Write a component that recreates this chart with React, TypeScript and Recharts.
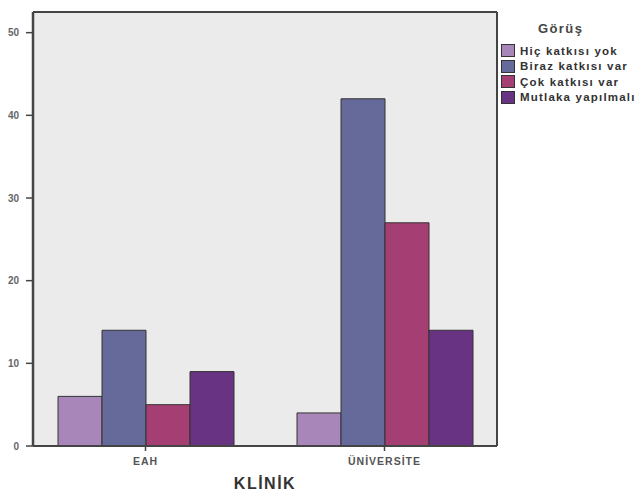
import React from 'react';
import { BarChart, Bar, XAxis, YAxis, CartesianGrid, Label } from 'recharts';

const clinics = ['EAH', 'ÜNİVERSİTE'];
const hicKatkisiYok = [6, 4];
const birazKatkisiVar = [14, 42];
const cokKatkisiVar = [5, 27];
const mutlakaYapilmali = [9, 14];
const yTicks = [0, 10, 20, 30, 40, 50];

const series = [
  { key: 'hic', name: 'Hiç katkısı yok', color: '#a886b9', values: hicKatkisiYok },
  { key: 'biraz', name: 'Biraz katkısı var', color: '#656a9b', values: birazKatkisiVar },
  { key: 'cok', name: 'Çok katkısı var', color: '#a53f73', values: cokKatkisiVar },
  { key: 'mutlaka', name: 'Mutlaka yapılmalı', color: '#683382', values: mutlakaYapilmali },
];

const data = clinics.map((name, i) => {
  const row: Record<string, string | number> = { name };
  series.forEach(s => {
    row[s.key] = s.values[i];
  });
  return row;
});

const font = '"Liberation Sans", Arial, sans-serif';
const frame = '#444';

// frame lines on all four sides of the plot area
const frameRows = ({ offset }: any) => [offset.top, offset.top + offset.height];
const frameCols = ({ offset }: any) => [offset.left, offset.left + offset.width];

export default function App() {
  return (
    <div style={{ position: 'absolute', left: 0, top: 0, width: 640, height: 493, fontFamily: font }}>
      <BarChart
        width={640}
        height={493}
        data={data}
        margin={{ top: 12, right: 143, left: 0, bottom: 0 }}
        barGap={0}
        barSize={44}
      >
        <CartesianGrid
          fill="#ebebeb"
          stroke={frame}
          strokeWidth={2}
          horizontalCoordinatesGenerator={frameRows}
          verticalCoordinatesGenerator={frameCols}
        />
        <XAxis
          dataKey="name"
          height={47}
          padding={{ left: -7, right: -7 }}
          axisLine={{ stroke: frame, strokeWidth: 2 }}
          tickLine={{ stroke: frame, strokeWidth: 1.5 }}
          tickSize={5}
          tickMargin={7}
          tick={{ fontSize: 10.5, fontWeight: 700, fill: '#555', letterSpacing: 1, fontFamily: font }}
        >
          <Label
            value="KLİNİK"
            position="insideBottom"
            offset={4}
            style={{ fontSize: 16, fontWeight: 700, fill: '#333', letterSpacing: 1.5, fontFamily: font }}
          />
        </XAxis>
        <YAxis
          width={33}
          domain={[0, 52.5]}
          ticks={yTicks}
          allowDataOverflow
          axisLine={{ stroke: frame, strokeWidth: 2.5 }}
          tickLine={{ stroke: frame, strokeWidth: 1.5 }}
          tickSize={7}
          tickMargin={7}
          tick={{ fontSize: 10, fontWeight: 700, fill: '#666', fontFamily: font }}
        />
        {series.map(s => (
          <Bar
            key={s.key}
            dataKey={s.key}
            name={s.name}
            fill={s.color}
            stroke="#333"
            strokeWidth={1}
            isAnimationActive={false}
          />
        ))}
      </BarChart>

      {/* legend */}
      <div style={{ position: 'absolute', left: 501, top: 21, width: 139 }}>
        <div style={{ fontSize: 13, fontWeight: 700, color: '#444', marginLeft: 37, marginBottom: 7, letterSpacing: 1.4 }}>
          Görüş
        </div>
        {series.map(s => (
          <div key={s.key} style={{ display: 'flex', alignItems: 'center', height: 15.5 }}>
            <span
              style={{
                display: 'inline-block',
                width: 14,
                height: 13,
                background: s.color,
                border: '1px solid #333',
                boxSizing: 'border-box',
                marginRight: 5,
              }}
            />
            <span style={{ fontSize: 11.5, fontWeight: 700, color: '#333', letterSpacing: 1.2, whiteSpace: 'nowrap' }}>
              {s.name}
            </span>
          </div>
        ))}
      </div>
    </div>
  );
}
